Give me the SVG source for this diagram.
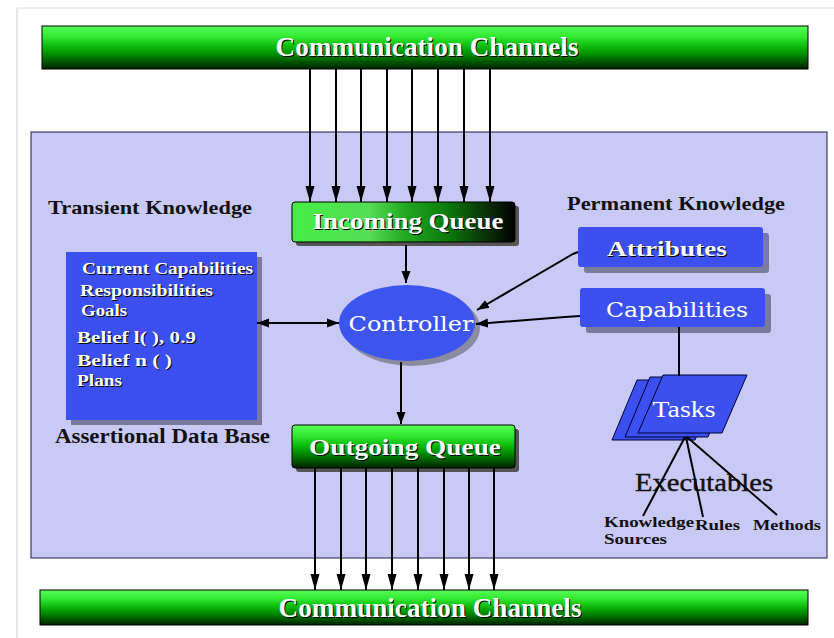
<svg xmlns="http://www.w3.org/2000/svg" width="834" height="638" viewBox="0 0 834 638">
<defs>
<linearGradient id="barG" x1="0" y1="0" x2="0" y2="1">
<stop offset="0" stop-color="#55ff55"/><stop offset="0.25" stop-color="#33e833"/>
<stop offset="0.45" stop-color="#10c010"/><stop offset="0.65" stop-color="#009000"/>
<stop offset="0.82" stop-color="#005a00"/><stop offset="1" stop-color="#002000"/>
</linearGradient>
<linearGradient id="inG" x1="0" y1="0" x2="1" y2="0">
<stop offset="0" stop-color="#44ee44"/><stop offset="0.35" stop-color="#55dd55"/>
<stop offset="0.5" stop-color="#22aa22"/><stop offset="0.7" stop-color="#0a7a0a"/>
<stop offset="0.85" stop-color="#0a3a0a"/><stop offset="1" stop-color="#000"/>
</linearGradient>
<marker id="ah" markerUnits="userSpaceOnUse" markerWidth="18" markerHeight="12" refX="16" refY="6" orient="auto-start-reverse" viewBox="0 0 18 12">
<path d="M0,1.5 L16,6 L0,10.5 z" fill="#000"/>
</marker>
<marker id="ahs" markerUnits="userSpaceOnUse" markerWidth="14" markerHeight="12" refX="12" refY="6" orient="auto-start-reverse" viewBox="0 0 14 12">
<path d="M0,1.5 L12,6 L0,10.5 z" fill="#000"/>
</marker>
</defs>
<style>
.lbl{font-family:"Liberation Serif","Times New Roman",serif;font-weight:bold;fill:#fff;}
.sh{font-family:"Liberation Serif","Times New Roman",serif;font-weight:bold;fill:#000;}
.dk{font-family:"Liberation Serif","Times New Roman",serif;font-weight:bold;fill:#111;}
.box{fill:#3c4ff0;}
.shadow{fill:#7a7a9a;}
.cn{stroke:#000;stroke-width:2;fill:none;}
</style>
<rect width="834" height="638" fill="#fff"/>
<line x1="17" y1="8" x2="17" y2="638" stroke="#e6e6e6" stroke-width="2"/>
<line x1="17" y1="8" x2="834" y2="8" stroke="#eeeeee" stroke-width="2"/>
<rect x="31" y="132" width="796" height="426" fill="#c9c9f5" stroke="#1a1a4a" stroke-width="1"/>

<g id="top-channels">
<rect x="42" y="26" width="766" height="43" fill="url(#barG)" stroke="#000" stroke-width="1"/>
<text x="428" y="57" class="sh" font-size="28" text-anchor="middle" textLength="303" lengthAdjust="spacingAndGlyphs">Communication Channels</text>
<text x="427" y="56" class="lbl" font-size="28" text-anchor="middle" textLength="303" lengthAdjust="spacingAndGlyphs">Communication Channels</text>
</g>

<g id="bottom-channels">
<rect x="40" y="590" width="768" height="35" fill="url(#barG)" stroke="#000" stroke-width="1"/>
<text x="431" y="618" class="sh" font-size="28" text-anchor="middle" textLength="303" lengthAdjust="spacingAndGlyphs">Communication Channels</text>
<text x="430" y="617" class="lbl" font-size="28" text-anchor="middle" textLength="303" lengthAdjust="spacingAndGlyphs">Communication Channels</text>
</g>

<g id="transient-label"><text x="48" y="214" class="dk" font-size="19" textLength="204" lengthAdjust="spacingAndGlyphs">Transient Knowledge</text></g>
<g id="permanent-label"><text x="567" y="210" class="dk" font-size="19" textLength="218" lengthAdjust="spacingAndGlyphs">Permanent Knowledge</text></g>

<g id="adb">
<rect x="71" y="257" width="191" height="168" class="shadow"/>
<rect x="66" y="252" width="191" height="168" class="box"/>
<g font-size="16">
<text x="83" y="275" class="sh" textLength="171" lengthAdjust="spacingAndGlyphs">Current Capabilities</text>
<text x="82" y="274" class="lbl" textLength="171" lengthAdjust="spacingAndGlyphs">Current Capabilities</text>
<text x="81" y="297" class="sh" textLength="133" lengthAdjust="spacingAndGlyphs">Responsibilities</text>
<text x="80" y="296" class="lbl" textLength="133" lengthAdjust="spacingAndGlyphs">Responsibilities</text>
<text x="82" y="317" class="sh" textLength="46" lengthAdjust="spacingAndGlyphs">Goals</text>
<text x="81" y="316" class="lbl" textLength="46" lengthAdjust="spacingAndGlyphs">Goals</text>
<text x="78" y="344" class="sh" textLength="119" lengthAdjust="spacingAndGlyphs">Belief l(  ), 0.9</text>
<text x="77" y="343" class="lbl" textLength="119" lengthAdjust="spacingAndGlyphs">Belief l(  ), 0.9</text>
<text x="78" y="367" class="sh" textLength="95" lengthAdjust="spacingAndGlyphs">Belief n (  )</text>
<text x="77" y="366" class="lbl" textLength="95" lengthAdjust="spacingAndGlyphs">Belief n (  )</text>
<text x="78" y="387" class="sh" textLength="45" lengthAdjust="spacingAndGlyphs">Plans</text>
<text x="77" y="386" class="lbl" textLength="45" lengthAdjust="spacingAndGlyphs">Plans</text>
</g>
<text x="55" y="443" class="dk" font-size="20" textLength="215" lengthAdjust="spacingAndGlyphs">Assertional Data Base</text>
</g>

<g id="incoming-queue">
<rect x="296" y="206" width="223" height="40" rx="3" fill="#555"/>
<rect x="292" y="202" width="223" height="40" rx="3" fill="url(#inG)" stroke="#000" stroke-width="1"/>
<text x="409" y="230" class="sh" font-size="24" text-anchor="middle" textLength="191" lengthAdjust="spacingAndGlyphs">Incoming Queue</text>
<text x="408" y="229" class="lbl" font-size="24" text-anchor="middle" textLength="191" lengthAdjust="spacingAndGlyphs">Incoming Queue</text>
</g>

<g id="outgoing-queue">
<rect x="296" y="429" width="223" height="43" rx="3" fill="#555"/>
<rect x="292" y="425" width="223" height="43" rx="3" fill="url(#barG)" stroke="#000" stroke-width="1"/>
<text x="406" y="456" class="sh" font-size="24" text-anchor="middle" textLength="192" lengthAdjust="spacingAndGlyphs">Outgoing Queue</text>
<text x="405" y="455" class="lbl" font-size="24" text-anchor="middle" textLength="192" lengthAdjust="spacingAndGlyphs">Outgoing Queue</text>
</g>

<g id="controller">
<ellipse cx="412" cy="328" rx="68" ry="38" fill="#8a8aa0"/>
<ellipse cx="407" cy="323" rx="68" ry="38" fill="#3d55ef"/>
<text x="411" y="331" font-family="'DejaVu Serif','Liberation Serif',serif" font-size="21" fill="#fff" text-anchor="middle" textLength="125" lengthAdjust="spacingAndGlyphs">Controller</text>
</g>

<g id="attributes">
<rect x="584" y="233" width="185" height="40" rx="3" class="shadow"/>
<rect x="578" y="227" width="185" height="40" rx="3" class="box"/>
<text x="668" y="257" class="sh" font-size="22" text-anchor="middle" textLength="120" lengthAdjust="spacingAndGlyphs">Attributes</text>
<text x="667" y="256" class="lbl" font-size="22" text-anchor="middle" textLength="120" lengthAdjust="spacingAndGlyphs">Attributes</text>
</g>

<g id="capabilities">
<rect x="586" y="294" width="185" height="39" rx="3" class="shadow"/>
<rect x="580" y="288" width="185" height="39" rx="3" class="box"/>
<text x="677" y="317" font-family="'DejaVu Serif','Liberation Serif',serif" font-size="21" fill="#fff" text-anchor="middle" textLength="142" lengthAdjust="spacingAndGlyphs">Capabilities</text>
</g>

<g id="tasks">
<polygon points="637,380 720,380 695,440 612,440" fill="#3c4ff0" stroke="#000033" stroke-width="1"/>
<polygon points="650,377 733,377 708,437 625,437" fill="#3c4ff0" stroke="#000033" stroke-width="1"/>
<polygon points="663,375 747,375 722,433 638,433" fill="#3c50f0" stroke="#000033" stroke-width="1"/>
<text x="684" y="417" font-family="'Liberation Serif',serif" font-size="23" fill="#fff" text-anchor="middle" textLength="63" lengthAdjust="spacingAndGlyphs">Tasks</text>
</g>

<g id="executables">
<text x="635" y="491" font-family="'Liberation Serif',serif" font-size="25" fill="#111" stroke="#111" stroke-width="0.4" textLength="138" lengthAdjust="spacingAndGlyphs">Executables</text>
</g>
<g id="knowledge-sources">
<text x="604" y="527" class="dk" font-size="14" textLength="90" lengthAdjust="spacingAndGlyphs">Knowledge</text>
<text x="604" y="544" class="dk" font-size="14" textLength="63" lengthAdjust="spacingAndGlyphs">Sources</text>
</g>
<g id="rules"><text x="695" y="530" class="dk" font-size="14" textLength="45" lengthAdjust="spacingAndGlyphs">Rules</text></g>
<g id="methods"><text x="753" y="530" class="dk" font-size="14" textLength="68" lengthAdjust="spacingAndGlyphs">Methods</text></g>

<g id="connectors">
<line x1="310" y1="69" x2="310" y2="202" class="cn" stroke-width="3" marker-end="url(#ah)"/>
<line x1="336" y1="69" x2="336" y2="202" class="cn" stroke-width="1.5" marker-end="url(#ah)"/>
<line x1="361" y1="69" x2="361" y2="202" class="cn" stroke-width="1.5" marker-end="url(#ah)"/>
<line x1="387" y1="69" x2="387" y2="202" class="cn" stroke-width="1.5" marker-end="url(#ah)"/>
<line x1="412" y1="69" x2="412" y2="202" class="cn" stroke-width="1.5" marker-end="url(#ah)"/>
<line x1="438" y1="69" x2="438" y2="202" class="cn" stroke-width="1.5" marker-end="url(#ah)"/>
<line x1="464" y1="69" x2="464" y2="202" class="cn" stroke-width="1.5" marker-end="url(#ah)"/>
<line x1="490" y1="69" x2="490" y2="202" class="cn" stroke-width="1.5" marker-end="url(#ah)"/>

<line x1="315" y1="468" x2="315" y2="590" class="cn" stroke-width="2.5" marker-end="url(#ah)"/>
<line x1="341" y1="468" x2="341" y2="590" class="cn" stroke-width="2.5" marker-end="url(#ah)"/>
<line x1="366" y1="468" x2="366" y2="590" class="cn" stroke-width="2.5" marker-end="url(#ah)"/>
<line x1="392" y1="468" x2="392" y2="590" class="cn" stroke-width="2.5" marker-end="url(#ah)"/>
<line x1="418" y1="468" x2="418" y2="590" class="cn" stroke-width="1.5" marker-end="url(#ah)"/>
<line x1="444" y1="468" x2="444" y2="590" class="cn" stroke-width="1.5" marker-end="url(#ah)"/>
<line x1="469" y1="468" x2="469" y2="590" class="cn" stroke-width="1.5" marker-end="url(#ah)"/>
<line x1="494" y1="468" x2="494" y2="590" class="cn" stroke-width="1.5" marker-end="url(#ah)"/>

<line x1="406" y1="245" x2="406" y2="283" class="cn" marker-end="url(#ahs)"/>
<line x1="401" y1="362" x2="401" y2="424" class="cn" marker-end="url(#ahs)"/>
<line x1="257" y1="323" x2="339" y2="323" class="cn" marker-start="url(#ahs)" marker-end="url(#ahs)"/>
<polyline points="578,252 573,254 477,310" class="cn" stroke-width="2.5" marker-end="url(#ahs)"/>
<polyline points="580,316 565,317 476,324" class="cn" stroke-width="1.5" marker-end="url(#ahs)"/>
<line x1="679" y1="327" x2="679" y2="376" class="cn" stroke-width="1.5"/>
<line x1="685" y1="437" x2="643" y2="516" class="cn"/>
<line x1="686" y1="437" x2="703" y2="517" class="cn"/>
<line x1="687" y1="437" x2="777" y2="515" class="cn" stroke-width="2.5"/>
</g>
</svg>
